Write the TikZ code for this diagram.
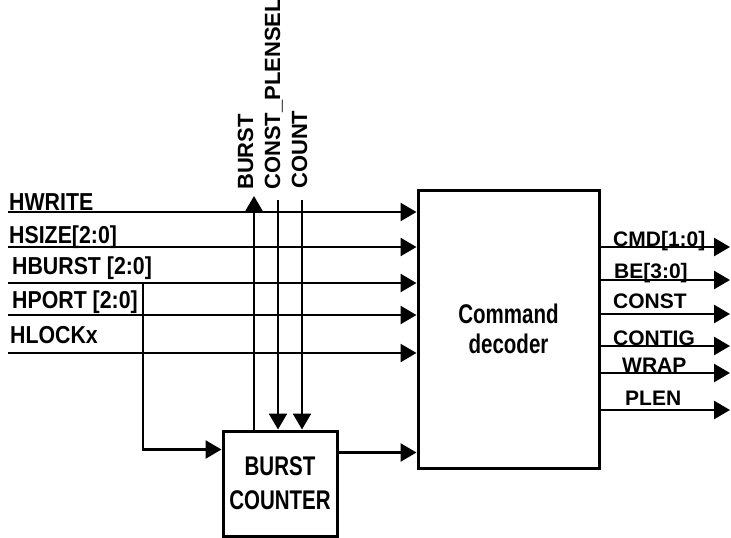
\documentclass[tikz,border=0pt]{standalone}
\usepackage{fontspec}
\usepackage{tikz}
\usetikzlibrary{arrows.meta}
\newfontfamily\blockfont{Liberation Sans}[FakeStretch=0.76]
\newfontfamily\sigfont{Liberation Sans}[FakeStretch=0.87]
\newfontfamily\outfont{Liberation Sans}

\begin{document}
\begin{tikzpicture}[
    x=1pt, y=-1pt,
    block/.style={rectangle, draw, line width=3pt, align=center, inner sep=0pt, font=\blockfont\bfseries\fontsize{27}{30}\selectfont},
    sig/.style={line width=2.5pt, -{Triangle[length=16pt,width=18pt]}},
    inlbl/.style={anchor=base west, inner sep=0pt, font=\sigfont\bfseries\fontsize{24.5}{26}\selectfont},
    outlbl/.style={anchor=base west, inner sep=0pt, font=\outfont\bfseries\fontsize{21}{22}\selectfont},
    uplbl/.style={rotate=90, anchor=base west, inner sep=0pt, font=\outfont\bfseries\fontsize{22}{24}\selectfont},
]
\useasboundingbox (0,0) rectangle (731,538);

% Blocks
\node[block, minimum width=181pt, minimum height=278pt] (dec) at (508.5,329) {Command\\decoder};
\node[block, minimum width=114pt, minimum height=105pt, font=\blockfont\bfseries\fontsize{27}{34}\selectfont] (ctr) at (280,483.5) {BURST\\COUNTER};

% Inputs
\foreach \i/\txt/\y/\ly/\lx in {1/HWRITE/212/210/9, 2/HSIZE[2:0]/247/243/9, 3/HBURST [2:0]/283/274/12, 4/HPORT [2:0]/315/308/12, 5/HLOCKx/353/343/10} {
  \coordinate (in\i) at (8,\y);
  \node[inlbl] (inlbl\i) at (\lx,\ly) {\txt};
  \draw[sig] (in\i) -- (in\i -| dec.west);
}

% Outputs
\foreach \i/\txt/\y/\ly/\lx in {1/CMD[1:0]/247/246/613, 2/BE[3:0]/280/278/614, 3/CONST/314/308/613, 4/CONTIG/346/345/613, 5/WRAP/373/372/622, 6/PLEN/410/405/625} {
  \coordinate (out\i) at (730,\y);
  \node[outlbl] (outlbl\i) at (\lx,\ly) {\txt};
  \draw[sig] (dec.east |- out\i) -- (out\i);
}

% Burst counter signals
\coordinate (burst-top) at (254,196);
\coordinate (const-top) at (278,200);
\coordinate (count-top) at (302,200);
\draw[sig] (ctr.north -| burst-top) -- (burst-top);
\draw[sig] (const-top) -- (const-top |- ctr.north);
\draw[sig] (count-top) -- (count-top |- ctr.north);
\node[uplbl] (burst-lbl) at (253,190) {BURST};
\node[uplbl] (const-lbl) at (280,190) {CONST\_PLENSEL};
\node[uplbl] (count-lbl) at (307,189) {COUNT};

% HBURST tap and counter output
\coordinate (tap) at (143,283);
\draw[sig] (tap) |- ([yshift=34pt]ctr.west);
\draw[sig] ([yshift=31pt]ctr.east) coordinate (cnt-out) -- (cnt-out -| dec.west);

\end{tikzpicture}
\end{document}
